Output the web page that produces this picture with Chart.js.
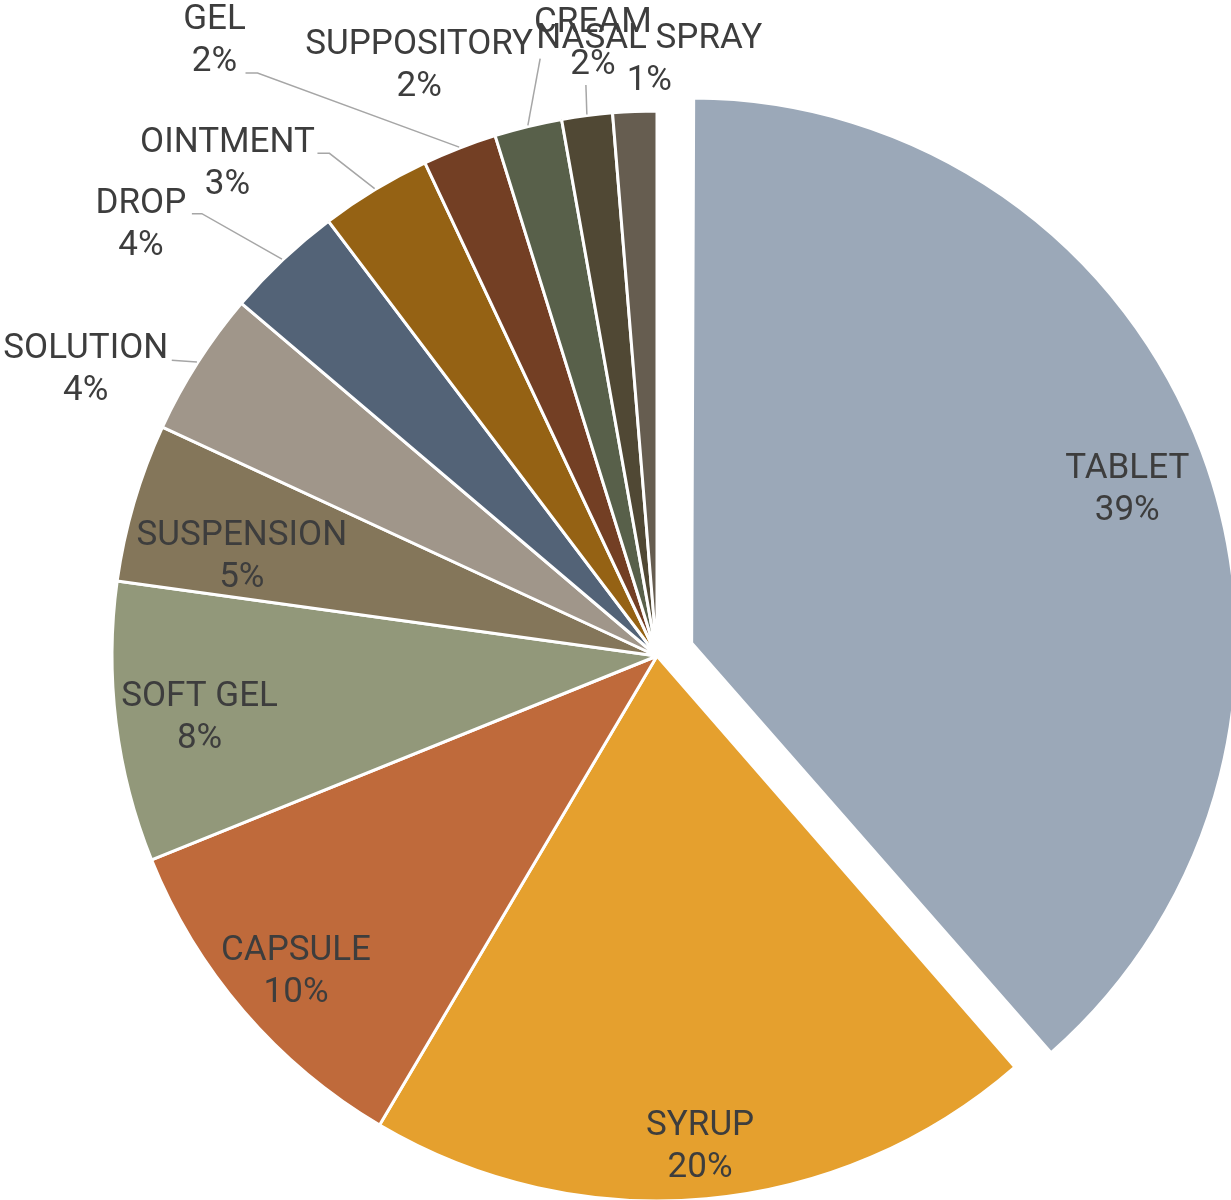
<!DOCTYPE html>
<html>
<head>
<meta charset="utf-8">
<script src="https://cdn.jsdelivr.net/npm/chart.js@4"></script>
<style>
  body { margin: 0; background: #fff; }
</style>
</head>
<body>
<canvas id="pie" width="1231" height="1200"></canvas>
<script>
const forms = ['TABLET', 'SYRUP', 'CAPSULE', 'SOFT GEL', 'SUSPENSION', 'SOLUTION', 'DROP', 'OINTMENT', 'GEL', 'SUPPOSITORY', 'CREAM', 'NASAL SPRAY'];
const shares = [38.6, 19.9, 10.4, 8.3, 4.7, 4.3, 3.5, 3.3, 2.2, 2.0, 1.5, 1.3];
const colors = ['#9ba8b8', '#e5a02e', '#bf6a3b', '#92987a', '#84765a', '#a0968a', '#536377', '#956214', '#733f24', '#58604a', '#504834', '#665d50'];

// where each label sits: r = share of the radius, a = degrees off the slice middle,
// lead = leader start (from label centre) and length of the flat elbow
const placement = [
  {r: 0.847, a: 1.2},
  {r: 0.904, a: 0.2},
  {r: 0.88, a: -0.5},
  {r: 0.847, a: -0.7},
  {r: 0.783, a: -3},
  {r: 1.172, a: -6, lead: [86, -10, 0]},
  {r: 1.233, a: -6.8, lead: [51, -12, 10]},
  {r: 1.198, a: -10, lead: [90, -11, 12]},
  {r: 1.39, a: -14.5, lead: [31, 32, 12]},
  {r: 1.166, a: -8.3, lead: [121, -8, 0]},
  {r: 1.129, a: 1.4, lead: [-7, 41, 0]},
  {r: 1.094, a: 1.6}
];

const total = shares.reduce((a, b) => a + b, 0);

// chart.js moves an exploded arc by offset/4 and also grows its radius by
// offset/4 * (1 - sin(circumference)); these give the real shift and growth
function shift(arc) {
  return (arc.options.offset || 0) / 4;
}
function grow(arc) {
  return shift(arc) * (1 - Math.sin(Math.min(Math.PI, arc.circumference)));
}

// keep the exploded slice the same size as the rest
const sameRadius = {
  id: 'sameRadius',
  afterDatasetsUpdate(chart) {
    chart.getDatasetMeta(0).data.forEach(arc => {
      arc.outerRadius -= grow(arc);
    });
  }
};

const sliceLabels = {
  id: 'sliceLabels',
  afterDatasetsDraw(chart) {
    const ctx = chart.ctx;
    const arcs = chart.getDatasetMeta(0).data;
    ctx.save();
    ctx.font = '35px Roboto';
    ctx.fillStyle = '#3d3d3d';
    ctx.textAlign = 'center';
    ctx.textBaseline = 'middle';
    arcs.forEach((arc, i) => {
      const p = placement[i];
      const mid = (arc.startAngle + arc.endAngle) / 2;
      const R = arc.outerRadius + grow(arc);
      const ox = arc.x + Math.cos(mid) * shift(arc);
      const oy = arc.y + Math.sin(mid) * shift(arc);
      const t = mid + p.a * Math.PI / 180;
      const cx = ox + Math.cos(t) * p.r * R;
      const cy = oy + Math.sin(t) * p.r * R;
      if (p.lead) {
        const ex = ox + Math.cos(mid) * (R + 1);
        const ey = oy + Math.sin(mid) * (R + 1);
        const sx = cx + p.lead[0], sy = cy + p.lead[1];
        ctx.beginPath();
        ctx.moveTo(sx, sy);
        if (p.lead[2]) ctx.lineTo(sx + p.lead[2], sy);
        ctx.lineTo(ex, ey);
        ctx.strokeStyle = '#a6a6a6';
        ctx.lineWidth = 1.5;
        ctx.stroke();
      }
      ctx.fillText(forms[i], cx, cy - 21);
      ctx.fillText(Math.round(shares[i] / total * 100) + '%', cx, cy + 21);
    });
    ctx.restore();
  }
};

function drawPie() {
  const config = {
    type: 'pie',
    data: {
      labels: forms,
      datasets: [{
        data: shares,
        backgroundColor: colors,
        borderColor: '#ffffff',
        borderWidth: 3,
        offset: forms.map((f, i) => i === 0 ? 148 : 0)
      }]
    },
    options: {
      responsive: false,
      animation: false,
      radius: 545,
      layout: { padding: { left: 83, top: 112, right: 0, bottom: 0 } },
      plugins: {
        legend: { display: false },
        tooltip: { enabled: false }
      }
    },
    plugins: [sameRadius, sliceLabels]
  };
  new Chart(document.getElementById('pie').getContext('2d'), config);
}

document.fonts.load('35px Roboto').then(drawPie, drawPie);
</script>
</body>
</html>
